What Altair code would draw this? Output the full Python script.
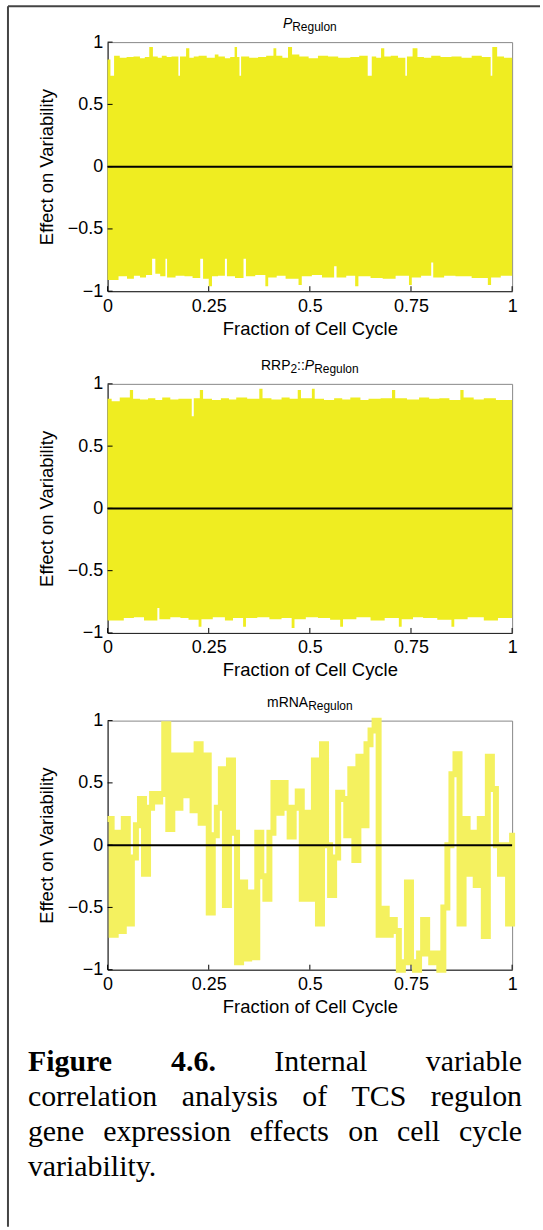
import altair as alt
import pandas as pd

# ---------------- data ----------------
# Panel 1: P_Regulon -- envelope of the dense oscillating trace (step breakpoints)
p1_upper_t = [0.000, 0.007, 0.016, 0.030, 0.047, 0.064, 0.080, 0.092, 0.103, 0.112,
              0.124, 0.134, 0.146, 0.158, 0.175, 0.179, 0.194, 0.202, 0.213, 0.225,
              0.245, 0.265, 0.274, 0.290, 0.303, 0.314, 0.320, 0.326, 0.330, 0.350,
              0.372, 0.392, 0.410, 0.417, 0.432, 0.446, 0.456, 0.474, 0.497, 0.520,
              0.545, 0.570, 0.600, 0.622, 0.643, 0.653, 0.664, 0.676, 0.684, 0.700,
              0.718, 0.736, 0.740, 0.754, 0.766, 0.782, 0.800, 0.823, 0.850, 0.875,
              0.900, 0.925, 0.947, 0.951, 0.963, 0.980, 1.000]
p1_upper_v = [0.86, 0.73, 0.89, 0.875, 0.88, 0.885, 0.87, 0.88, 0.96, 0.885,
              0.875, 0.89, 0.88, 0.885, 0.73, 0.885, 0.95, 0.875, 0.885, 0.89,
              0.875, 0.90, 0.885, 0.87, 0.88, 0.96, 0.88, 0.73, 0.885, 0.875,
              0.88, 0.89, 0.95, 0.89, 0.875, 0.96, 0.90, 0.885, 0.87, 0.89,
              0.885, 0.875, 0.88, 0.89, 0.73, 0.885, 0.875, 0.95, 0.885, 0.89,
              0.875, 0.73, 0.885, 0.95, 0.88, 0.875, 0.89, 0.88, 0.885, 0.875,
              0.89, 0.88, 0.73, 0.96, 0.885, 0.875, 0.875]
p1_lower_t = [0.000, 0.027, 0.048, 0.065, 0.080, 0.095, 0.110, 0.118, 0.130, 0.143,
              0.147, 0.168, 0.190, 0.210, 0.229, 0.236, 0.250, 0.258, 0.273, 0.290,
              0.295, 0.315, 0.336, 0.342, 0.365, 0.390, 0.397, 0.418, 0.440, 0.472,
              0.480, 0.505, 0.530, 0.560, 0.566, 0.590, 0.612, 0.620, 0.650, 0.680,
              0.712, 0.745, 0.752, 0.775, 0.800, 0.805, 0.832, 0.860, 0.900, 0.940,
              0.948, 0.972, 1.000]
p1_lower_v = [-0.91, -0.88, -0.90, -0.875, -0.89, -0.87, -0.74, -0.86, -0.88, -0.74,
              -0.89, -0.875, -0.88, -0.895, -0.74, -0.90, -0.96, -0.88, -0.875, -0.74,
              -0.88, -0.895, -0.74, -0.88, -0.87, -0.96, -0.89, -0.875, -0.90, -0.95,
              -0.88, -0.87, -0.89, -0.80, -0.89, -0.875, -0.96, -0.88, -0.895, -0.90,
              -0.875, -0.95, -0.89, -0.875, -0.77, -0.89, -0.875, -0.88, -0.895, -0.95,
              -0.89, -0.875, -0.89]

# Panel 2: RRP2::P_Regulon
p2_upper_t = [0.000, 0.010, 0.030, 0.055, 0.063, 0.080, 0.100, 0.118, 0.135, 0.155,
              0.175, 0.208, 0.213, 0.228, 0.236, 0.258, 0.280, 0.300, 0.318, 0.345,
              0.375, 0.383, 0.405, 0.430, 0.450, 0.470, 0.478, 0.505, 0.512, 0.535,
              0.560, 0.580, 0.600, 0.625, 0.645, 0.675, 0.703, 0.711, 0.740, 0.770,
              0.795, 0.820, 0.845, 0.872, 0.880, 0.905, 0.930, 0.960, 1.000]
p2_upper_v = [0.88, 0.86, 0.89, 0.95, 0.88, 0.875, 0.885, 0.87, 0.89, 0.875,
              0.88, 0.74, 0.885, 0.95, 0.88, 0.87, 0.885, 0.875, 0.89, 0.88,
              0.96, 0.885, 0.875, 0.89, 0.88, 0.95, 0.885, 0.96, 0.88, 0.87,
              0.885, 0.875, 0.89, 0.87, 0.88, 0.885, 0.95, 0.885, 0.875, 0.89,
              0.88, 0.885, 0.87, 0.95, 0.89, 0.875, 0.885, 0.87, 0.87]
p2_lower_t = [0.000, 0.040, 0.065, 0.090, 0.123, 0.128, 0.155, 0.180, 0.200, 0.225,
              0.232, 0.260, 0.290, 0.310, 0.335, 0.342, 0.370, 0.400, 0.430, 0.455,
              0.462, 0.490, 0.520, 0.550, 0.575, 0.582, 0.615, 0.650, 0.685, 0.720,
              0.727, 0.755, 0.780, 0.815, 0.850, 0.857, 0.890, 0.930, 0.965, 1.000]
p2_lower_v = [-0.90, -0.88, -0.875, -0.90, -0.80, -0.89, -0.875, -0.88, -0.895, -0.95,
              -0.89, -0.875, -0.90, -0.88, -0.95, -0.88, -0.875, -0.89, -0.88, -0.96,
              -0.89, -0.875, -0.88, -0.895, -0.95, -0.89, -0.875, -0.90, -0.88, -0.95,
              -0.89, -0.875, -0.88, -0.895, -0.95, -0.89, -0.875, -0.90, -0.88, -0.88]

# Panel 3: mRNA_Regulon, sampled every 0.01 of the cell cycle
mrna_v = [0.21, -0.72, 0.10, -0.69, 0.21, -0.63, -0.10, 0.16, 0.37, -0.23,
          0.30, 0.41, 0.35, 0.41, 0.97, 0.13, 0.72, 0.30, 0.72, 0.40,
          0.72, 0.28, 0.81, 0.18, 0.72, -0.54, 0.08, 0.30, 0.61, -0.48,
          0.68, 0.10, -0.94, -0.30, -0.91, -0.38, -0.90, 0.10, -0.25, -0.43,
          0.10, 0.50, 0.26, 0.50, 0.30, 0.07, 0.30, 0.43, -0.43, 0.26,
          -0.43, 0.68, -0.63, 0.81, 0.00, -0.40, -0.10, 0.42, 0.37, 0.08,
          0.61, -0.12, 0.71, 0.16, 0.81, 0.92, 1.00, -0.72, -0.51, -0.72,
          -0.60, -0.69, -1.00, -0.94, -0.30, -0.94, -1.00, -0.87, -0.60, -0.87,
          -0.94, -0.87, -1.00, -0.50, 0.00, 0.57, 0.73, -0.63, 0.21, -0.23,
          0.10, -0.32, 0.21, -0.73, 0.71, 0.45, 0.00, -0.23, 0.00, -0.63,
          0.10]
mrna_t = [round(i * 0.01, 2) for i in range(len(mrna_v))]

x_ticks = [0, 0.25, 0.5, 0.75, 1]
y_ticks = [-1, -0.5, 0, 0.5, 1]

caption_lines = [
    [("Figure", True), ("4.6.", True), ("Internal", False), ("variable", False)],
    [("correlation", False), ("analysis", False), ("of", False), ("TCS", False), ("regulon", False)],
    [("gene", False), ("expression", False), ("effects", False), ("on", False), ("cell", False), ("cycle", False)],
    [("variability.", False)],
]

# ---------------- styling ----------------
W, H = 406, 250
YELLOW = "#efed21"
MRNA_YELLOW = "#f4f15f"
FONT = "Liberation Sans"
SERIF = "Liberation Serif"

one = pd.DataFrame({"a": [0]})
x_scale = alt.Scale(domain=[0, 1], nice=False, zero=False)
y_scale = alt.Scale(domain=[-1, 1], nice=False, zero=False)

x_axis = alt.Axis(values=x_ticks, title="Fraction of Cell Cycle", ticks=False, grid=False,
                  labelFlush=False, labelPadding=6, titlePadding=4,
                  labelExpr="toString(datum.value)")
y_axis = alt.Axis(values=y_ticks, title="Effect on Variability", ticks=False, grid=False,
                  labelFlush=False, labelPadding=5, titlePadding=11,
                  labelExpr="datum.value < 0 ? '\u2212' + toString(-datum.value) : toString(datum.value)")


def X(field):
    return alt.X(field, scale=x_scale, axis=x_axis)


def Y(field):
    return alt.Y(field, scale=y_scale, axis=y_axis)


def guides():
    zero = alt.Chart(pd.DataFrame({"v": [0]})).mark_rule(color="black", strokeWidth=2).encode(
        y=Y("v:Q"))
    xt = alt.Chart(pd.DataFrame({"t": x_ticks})).mark_rule(color="black", strokeWidth=1).encode(
        x=X("t:Q"), y=alt.value(H), y2=alt.value(H - 5))
    yt = alt.Chart(pd.DataFrame({"v": y_ticks})).mark_rule(color="black", strokeWidth=1).encode(
        y=Y("v:Q"), x=alt.value(0), x2=alt.value(5))
    return [zero, xt, yt]


def text_piece(text, x, y, size, italic=False):
    kw = dict(text=text, fontSize=size, align="left", baseline="alphabetic", font=FONT, color="black")
    if italic:
        kw["fontStyle"] = "italic"
    return alt.Chart(one).mark_text(**kw).encode(x=alt.value(x), y=alt.value(y))


def title_pieces(parts):
    # parts: (text, size, italic, is_sub) ; widths from Arial metrics
    widths = {'R': .722, 'P': .667, 'e': .556, 'g': .556, 'u': .556, 'l': .222, 'o': .556,
              'n': .556, 'm': .833, 'N': .722, 'A': .667, '2': .556, ':': .278}
    total = sum(sum(widths[c] for c in t) * s for t, s, _, _ in parts)
    x = W / 2 - total / 2
    out = []
    for t, s, it, sub in parts:
        out.append(text_piece(t, x, -11 if sub else -14, s, it))
        x += sum(widths[c] for c in t) * s
    return out


def dense_panel(ut, uv, lt, lv, title_parts, extra=()):
    up = pd.DataFrame({"t": ut, "v": uv, "z": 0.0})
    lo = pd.DataFrame({"t": lt, "v": lv, "z": 0.0})
    a1 = alt.Chart(up).mark_area(interpolate="step-after", color=YELLOW).encode(
        x=X("t:Q"), y=Y("v:Q"), y2="z:Q")
    a2 = alt.Chart(lo).mark_area(interpolate="step-after", color=YELLOW).encode(
        x=X("t:Q"), y=Y("v:Q"), y2="z:Q")
    return alt.layer(a1, a2, *guides(), *title_pieces(title_parts), *extra).properties(width=W, height=H)


# outer frame of the figure (left and top edges visible)
frame = [
    alt.Chart(one).mark_rule(color="#444", strokeWidth=2).encode(
        x=alt.value(-100), x2=alt.value(434), y=alt.value(-36)),
    alt.Chart(one).mark_rule(color="#444", strokeWidth=2).encode(
        x=alt.value(-100), y=alt.value(-36), y2=alt.value(1189)),
]

SUB = 12
p1 = dense_panel(p1_upper_t, p1_upper_v, p1_lower_t, p1_lower_v,
                 [("P", 14, True, False), ("Regulon", SUB, False, True)], frame)
p2 = dense_panel(p2_upper_t, p2_upper_v, p2_lower_t, p2_lower_v,
                 [("RRP", 14, False, False), ("2", SUB, False, True), ("::", 14, False, False),
                  ("P", 14, True, False), ("Regulon", SUB, False, True)])

# caption, justified with Times metrics
reg = {'a': 444, 'b': 500, 'c': 444, 'd': 500, 'e': 444, 'f': 333, 'g': 500, 'h': 500, 'i': 278,
       'l': 278, 'n': 500, 'o': 500, 'p': 500, 'r': 333, 's': 389, 't': 278, 'u': 500, 'v': 500,
       'x': 500, 'y': 500, 'I': 333, 'T': 611, 'C': 667, 'S': 556, '.': 250}
bold = {'F': 611, 'i': 278, 'g': 500, 'u': 556, 'r': 444, 'e': 444, '4': 500, '.': 250, '6': 500}
CAP = 30
LEFT, RIGHT = -80, 416
caption = []
for li, words in enumerate(caption_lines):
    ws = [sum((bold if b else reg)[c] for c in w) * CAP / 1000 for w, b in words]
    gap = (RIGHT - LEFT - sum(ws)) / (len(words) - 1) if li < 3 else 0
    x = LEFT
    for (w, b), wd in zip(words, ws):
        caption.append(alt.Chart(one).mark_text(
            text=w, font=SERIF, fontSize=CAP, align="left", baseline="alphabetic",
            fontWeight="bold" if b else "normal", color="black").encode(
            x=alt.value(x), y=alt.value(352 + 35 * li)))
        x += wd + gap

df3 = pd.DataFrame({"t": mrna_t, "v": mrna_v})
line3 = alt.Chart(df3).mark_line(interpolate="step-after", strokeWidth=6, color=MRNA_YELLOW,
                                  strokeCap="butt").encode(x=X("t:Q"), y=Y("v:Q"))
p3 = alt.layer(line3, *guides(),
               *title_pieces([("mRNA", 14, False, False), ("Regulon", SUB, False, True)]),
               *caption).properties(width=W, height=H)

inner = alt.vconcat(p2, p3, spacing=88, bounds="flush")
chart = alt.vconcat(p1, inner, spacing=93, bounds="flush").properties(
    padding={"left": 6, "top": 2, "right": 1, "bottom": 1},
    background="white",
).configure_view(stroke="#888", strokeWidth=1).configure_axis(
    domainColor="#222", domainWidth=1, labelFont=FONT, labelFontSize=18, labelColor="black",
    titleFont=FONT, titleFontSize=18.5, titleFontWeight="normal", titleColor="black")

chart.save("out.html", embed_options={"renderer": "svg", "actions": False})
